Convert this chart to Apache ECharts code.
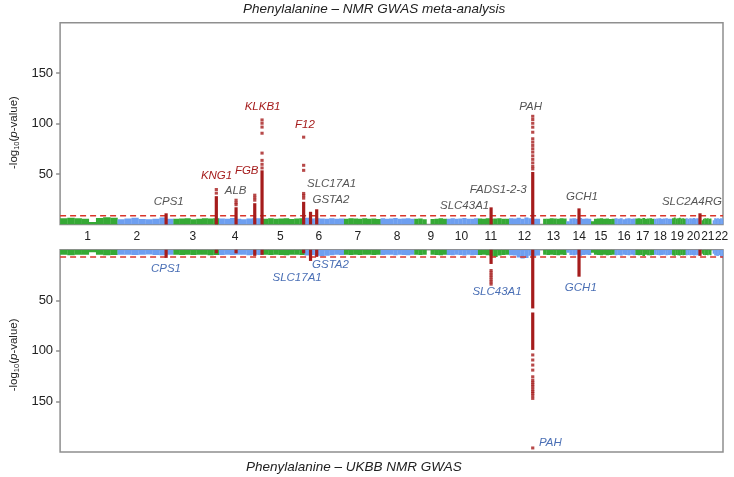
<!DOCTYPE html>
<html><head><meta charset="utf-8">
<script src="https://cdn.jsdelivr.net/npm/echarts@6/dist/echarts.min.js"></script>
<style>html,body{margin:0;padding:0;background:#fff}#c{width:734px;height:477px}</style>
</head><body><div id="c"></div>
<script>
// ---------- data ----------
const chrLengths = [249.3,243.2,198.0,191.2,180.9,171.1,159.1,146.4,141.2,135.5,135.0,133.9,115.2,107.3,102.5,90.4,81.2,78.1,59.1,63.0,48.1,51.3];
const chrNames = ['1','2','3','4','5','6','7','8','9','10','11','12','13','14','15','16','17','18','19','20','21','22'];
const chrLabelPos = [120,334,577,760,957,1125,1294,1465,1611,1744,1872,2018,2144,2256,2350,2451,2532,2608,2682,2753,2815,2875];
const yTicks = [50,100,150];

// band (non-significant SNP cloud) tops per chromosome sub-segment
const bandTop = [
 [6.0,6.5,6.2,5.5,2.5,6.3,7.2,6.5],[5.2,5.8,6.5,5.4,5.0,5.6,6.8,5.5],[5.6,5.8,6.0,5.2,5.5,6.1,5.8,6.0],
 [5.8,5.5,6.4,5.6,5.2,5.8,6.2,6.0],[5.5,6.0,5.6,5.8,6.2,5.4,5.9,6.0],[6.5,5.8,6.2,5.8,5.5,6.0,5.6,5.8],
 [5.6,6.0,5.8,5.5,6.2,5.7,5.9,5.4],[6.0,5.5,5.8,6.3,5.6,5.9,6.1,5.5],[5.5,5.8,5.2,0,5.4,5.6,6.0,5.7],
 [5.6,6.0,5.5,5.8,6.4,5.7,5.5,6.0],[5.8,5.5,6.0,5.6,5.9,6.2,5.5,5.7],[6.0,5.8,6.5,5.6,6.8,6.0,5.7,5.5],
 [0,5.6,5.6,6.0,5.8,5.5,6.2,5.8],[3,5.8,6.0,5.5,6.3,5.6,5.8,5.5],[3,5.5,5.8,6.2,5.6,5.9,5.4,5.7],
 [6.2,5.6,6.0,5.2,5.8,6.0,5.5,5.8],[5.8,6.0,5.6,6.3,5.5,5.9,6.0,5.6],[5.6,5.9,6.1,5.5,5.8,6.0,5.6,5.5],
 [6.2,6.8,5.8,6.0,6.5,5.9,6.0,5.6],[6.0,5.7,6.2,5.8,6.4,5.9,6.1,5.5],[0,4,5.6,6.0,5.8,6.0,5.5,5.8],
 [0,4,6.0,5.8,6.2,5.7,6.0,5.9]
];
const bandBottom = [
 [5.0,5.3,5.0,4.8,2.5,5.0,5.4,5.1],[4.8,5.0,5.2,4.9,4.7,5.1,5.3,5.0],[5.0,5.2,4.9,5.1,4.8,5.0,5.3,5.1],
 [5.1,4.8,5.2,5.0,4.9,5.3,5.0,5.2],[4.9,5.2,5.0,5.1,5.3,4.8,5.0,5.2],[5.6,5.2,5.8,6.4,5.9,5.3,5.0,5.1],
 [5.0,5.1,4.9,5.2,5.0,4.8,5.1,5.0],[5.2,5.0,4.9,5.3,5.0,5.1,5.4,5.0],[5.0,5.2,4.8,0,5.0,5.1,5.3,5.0],
 [5.1,5.4,5.0,5.2,5.6,5.0,5.3,5.1],[5.2,5.0,5.4,6.5,7.0,5.6,5.2,5.0],[5.4,5.6,7.5,8.5,8.0,6.0,6.5,5.6],
 [0,5.0,5.2,4.9,5.1,5.3,5.0,5.2],[3,5.1,5.3,5.0,5.8,5.2,5.0,5.1],[3,5.0,5.2,5.4,5.0,5.3,5.1,5.0],
 [5.4,5.1,5.6,5.0,5.2,5.5,5.0,5.3],[5.2,5.5,5.1,6.2,5.0,5.3,5.4,5.1],[5.0,5.2,5.4,5.1,5.0,5.3,5.1,5.0],
 [5.4,5.8,5.2,5.3,5.6,5.1,5.4,5.2],[5.3,5.1,5.5,5.2,5.6,5.3,5.5,5.0],[0,4,5.1,5.4,5.2,5.5,5.0,5.3],
 [0,4,5.6,5.9,6.2,5.5,7.0,8.0]
];
const thresholdTop = 8.6;
const thresholdBottom = 7.0;

// significant loci
const genes   = ['CPS1','KNG1','ALB','FGB','KLKB1','F12','SLC17A1','GSTA2','SLC43A1','PAH','GCH1','SLC2A4RG'];
const geneChr = [2,3,4,4,4,5,6,6,11,12,14,20];
const geneMb  = [211.5,186.5,74.3,155.5,187.2,176.8,25.8,52.6,57.2,103.2,55.3,62.4];
// solid runs [from,to] and isolated points, meta-analysis (top)
const topSeg = [[[0,11]],[[0,28]],[[0,17]],[[0,21]],[[0,53.6]],[[0,22.4]],[[0,12.5]],[[0,15]],[[0,16.9]],[[0,52]],[[0,15.9]],[[0,11]]];
const topDots = [[],[34.6,31],[24,21.5,19.5],[29,26.5,24],[103.6,100.3,96.5,90.4,70.7,63.5,59.6,56],[86.5,58.6,53.6,30.7,28.5,26],[],[],[],
 [107.2,104,100.3,96.4,91.4,84.9,81.6,78.3,75,71.7,68,64.5,61,57.5,55],[],[]];
// UKBB (bottom)
const botSeg = [[[0,8]],[[0,3.5]],[[0,3.5]],[[0,6]],[[0,5]],[[0,3.5]],[[0,11]],[[0,7]],[[0,14]],[[0,58],[62,99]],[[0,26.6]],[[0,6]]];
const botDots = [[],[],[],[],[],[],[],[],[20.5,22.8,25,27.2,29.6,31.8,34],[104,109,114,119,125.6,129,131.2,133.4,135.5,138,140.2,142,144.3,147,196],[],[]];

// gene labels [name, x (Mb, cumulative), y]
const topLabelNames = ['CPS1','KNG1','FGB','ALB','KLKB1','F12','SLC17A1','GSTA2','FADS1-2-3','SLC43A1','PAH','GCH1','SLC2A4RG'];
const topLabelX = [472,680,811,763,880,1064,1180,1177,1904,1758,2045,2268,2746];
const topLabelY = [22.4,48,52.7,33,116.8,98.7,40.5,24,34,18.1,116.8,27.3,22.4];
const topLabelRed = [0,1,1,0,1,1,0,0,0,0,0,0,0];
const botLabelNames = ['CPS1','SLC17A1','GSTA2','SLC43A1','GCH1','PAH'];
const botLabelX = [460,1030,1175,1899,2263,2131];
const botLabelY = [19,27.6,15,41.5,37.1,191];

// ---------- build ----------
const GREEN='#35a935', BLUE='#6e9ff0', RED='#a51c1c', GRAY_TXT='#555555', BLUE_TXT='#4a6fb5', AXIS='#8f8f8f';
const FONT='Liberation Sans';
const chrStart=[]; let acc=0; chrLengths.forEach(l=>{chrStart.push(acc); acc+=l;});
const TOTAL=acc;
const geneX = genes.map((g,i)=>chrStart[geneChr[i]-1]+geneMb[i]);

function bandData(h){
  const out=[];
  h.forEach((segs,ci)=>{
    const len=chrLengths[ci], n=segs.length;
    segs.forEach((v,si)=>{ if(v>0) out.push([chrStart[ci]+len*si/n, chrStart[ci]+len*(si+1)/n, v, ci%2]); });
  });
  return out;
}
function segData(segs){ const out=[]; segs.forEach((ss,i)=>ss.forEach(s=>out.push([geneX[i],s[0],s[1]]))); return out; }
function dotData(d){ const out=[]; d.forEach((ds,i)=>ds.forEach(v=>out.push([geneX[i],v]))); return out; }

function bandSeries(idx,h){
  return {type:'custom', xAxisIndex:idx, yAxisIndex:idx, z:1, clip:true, data:bandData(h), encode:{x:[0,1],y:2},
    renderItem:(p,api)=>{
      const a=api.coord([api.value(0),0]), b=api.coord([api.value(1),api.value(2)]);
      return {type:'rect', shape:{x:a[0], y:Math.min(a[1],b[1]), width:b[0]-a[0]+0.3, height:Math.abs(b[1]-a[1])},
        style:{fill: api.value(3)?BLUE:GREEN}};
    }};
}
function segSeries(idx,segs){
  return {type:'custom', xAxisIndex:idx, yAxisIndex:idx, z:4, data:segData(segs), encode:{x:0,y:[1,2]},
    renderItem:(p,api)=>{
      const a=api.coord([api.value(0),api.value(1)]), b=api.coord([api.value(0),api.value(2)]);
      return {type:'rect', shape:{x:a[0]-1.6, y:Math.min(a[1],b[1]), width:3.2, height:Math.abs(b[1]-a[1])}, style:{fill:RED}};
    }};
}
function dotSeries(idx,d){
  return {type:'scatter', xAxisIndex:idx, yAxisIndex:idx, z:4, symbol:'rect', symbolSize:[3.2,3], itemStyle:{color:RED}, data:dotData(d), silent:true};
}
function threshSeries(idx,v){
  return {type:'line', xAxisIndex:idx, yAxisIndex:idx, z:3, symbol:'none', data:[[0,v],[TOTAL,v]],
    lineStyle:{color:'#d9352a', width:1.5, type:[6,4]}, silent:true};
}
function labelSeries(idx,names,xs,ys,colors){
  return {type:'custom', xAxisIndex:idx, yAxisIndex:idx, z:5, clip:false,
    data:names.map((n,i)=>[xs[i],ys[i],i]), encode:{x:0,y:1},
    renderItem:(p,api)=>{
      const c=api.coord([api.value(0),api.value(1)]); const i=api.value(2);
      return {type:'text', x:c[0], y:c[1], style:{text:names[i], fill:colors[i], align:'center', verticalAlign:'middle',
        font:'italic 11.5px "'+FONT+'"'}};
    }};
}

const yName = '-log{s|10}({i|p}-value)';
function yAxis(idx,inverse,shift){
  return {type:'value', gridIndex:idx, min:0, max:200, inverse:inverse,
    name:yName, nameLocation:'middle', nameGap:36,
    nameTextStyle:{fontSize:11.5, color:'#222', fontFamily:FONT, padding:[0,shift,0,0],
      rich:{s:{fontSize:7.5, fontFamily:FONT, color:'#222', padding:[5,0,0,0]}, i:{fontSize:11.5, fontStyle:'italic', fontFamily:FONT, color:'#222'}}},
    axisLine:{show:false}, splitLine:{show:false},
    axisTick:{show:true, length:4, customValues:yTicks, lineStyle:{color:AXIS, width:1.5}},
    axisLabel:{customValues:yTicks, fontSize:13, color:'#222', fontFamily:FONT, margin:7}};
}

const chart = echarts.init(document.getElementById('c'), null, {renderer:'canvas'});
chart.setOption({
  animation:false,
  backgroundColor:'#fff',
  title:[
    {text:'Phenylalanine – NMR GWAS meta-analysis', left:238, top:-3,
     textStyle:{fontSize:13.5, fontStyle:'italic', fontWeight:'normal', color:'#222', fontFamily:FONT}},
    {text:'Phenylalanine – UKBB NMR GWAS', left:241, top:455,
     textStyle:{fontSize:13.5, fontStyle:'italic', fontWeight:'normal', color:'#222', fontFamily:FONT}}
  ],
  grid:[
    {left:50.7, right:11, top:22.7, height:201.7, show:true, borderColor:AXIS, borderWidth:1.5, backgroundColor:'transparent'},
    {left:50.7, right:11, top:249.8, height:202.2, show:true, borderColor:AXIS, borderWidth:1.5, backgroundColor:'transparent'}
  ],
  xAxis:[
    {type:'value', gridIndex:0, min:0, max:TOTAL, axisLine:{show:false}, axisTick:{show:false}, splitLine:{show:false},
     axisLabel:{customValues:chrLabelPos, fontSize:12, color:'#222', fontFamily:FONT, margin:6, showMinLabel:true, showMaxLabel:true, hideOverlap:false,
       formatter:v=>{const k=chrLabelPos.indexOf(v); return k>=0?chrNames[k]:'';}}},
    {type:'value', gridIndex:1, min:0, max:TOTAL, axisLine:{show:false}, axisTick:{show:false}, splitLine:{show:false}, axisLabel:{show:false}}
  ],
  yAxis:[yAxis(0,false,18), yAxis(1,true,8)],
  series:[
    bandSeries(0,bandTop), bandSeries(1,bandBottom),
    threshSeries(0,thresholdTop), threshSeries(1,thresholdBottom),
    segSeries(0,topSeg), segSeries(1,botSeg),
    dotSeries(0,topDots), dotSeries(1,botDots),
    labelSeries(0,topLabelNames,topLabelX,topLabelY,topLabelRed.map(r=>r?RED:GRAY_TXT)),
    labelSeries(1,botLabelNames,botLabelX,botLabelY,botLabelNames.map(()=>BLUE_TXT))
  ]
});
</script></body></html>
